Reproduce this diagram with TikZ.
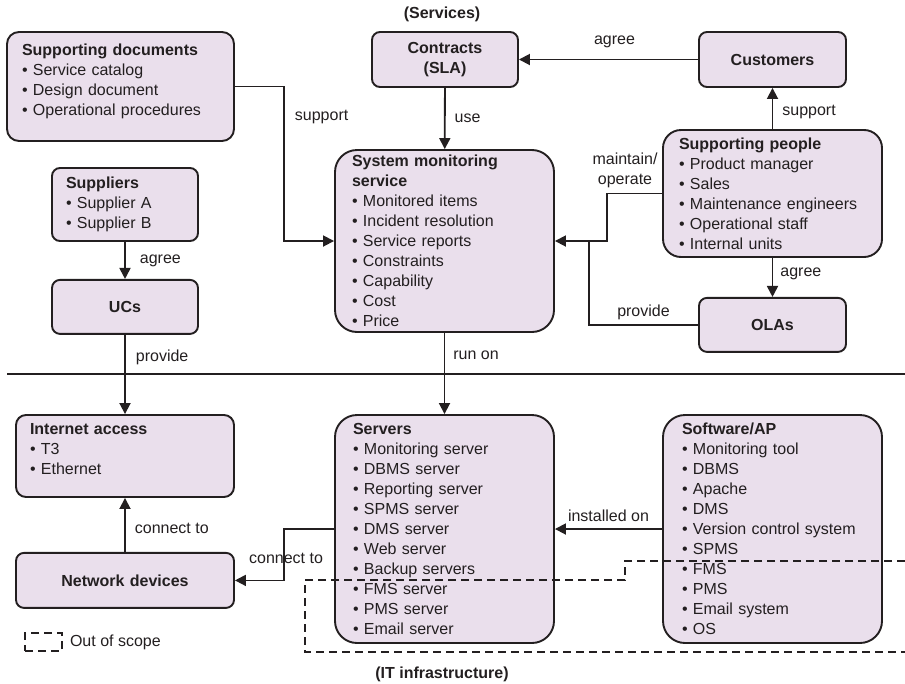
\documentclass[tikz,border=0pt]{standalone}
\usepackage{fontspec}
\setmainfont{Liberation Sans}
\usetikzlibrary{positioning,arrows.meta}
\definecolor{boxfill}{HTML}{EADFEC}
\definecolor{ink}{HTML}{231F20}
\tikzset{
>={Triangle[length=11pt,width=11pt]},
box/.style={rectangle, rounded corners=#1, draw=ink, line width=1.9pt, fill=boxfill, text=ink, font=\fontsize{16pt}{20pt}\selectfont, inner xsep=15pt, inner ysep=0pt},
box/.default=8pt,
listbox/.style={box=#1, align=left},
listbox/.default=8pt,
namebox/.style={box=8pt, align=center, font=\fontsize{16pt}{20pt}\selectfont\bfseries},
line/.style={draw=ink, line width=1.8pt, ->},
merge/.style={draw=ink, line width=1.8pt, -},
lbl/.style={text=ink, font=\fontsize{16pt}{20pt}\selectfont, inner sep=1pt},
heading/.style={text=ink, font=\fontsize{16pt}{20pt}\selectfont\bfseries, inner sep=1pt},
sepline/.style={draw=ink, line width=2.3pt},
scopeline/.style={draw=ink, line width=1.7pt, dash pattern=on 8pt off 5pt},
}

\begin{document}
\begin{tikzpicture}
[x=1pt, y=-1pt, node distance=20pt]
\useasboundingbox (0,0) rectangle (905,683);

\node[heading] (services) at (442,14) {(Services)};
\node[heading] (infra) at (442,674) {(IT infrastructure)};

% services side
\node[listbox=12pt, text width=197pt, minimum height=109pt] (docs) at (120.5,86.5) {\textbf{Supporting documents}\\• Service catalog\\• Design document\\• Operational procedures\\[-6pt]\mbox{}};
\node[namebox, text width=116pt, minimum height=55pt] (contracts) at (445,59.5) {Contracts\\(SLA)};
\node[namebox, text width=117pt, minimum height=55pt] (customers) at (772.5,59.5) {Customers};
\node[listbox=22pt, inner xsep=17pt, text width=185pt, minimum height=182pt] (sms) at (444.5,241) {\textbf{System monitoring}\\\textbf{service}\\• Monitored items\\• Incident resolution\\• Service reports\\• Constraints\\• Capability\\• Cost\\• Price};
\node[listbox=8pt, inner xsep=14pt, text width=118pt, minimum height=73pt] (suppliers) at (125,204.5) {\textbf{Suppliers}\\• Supplier A\\• Supplier B};
\node[namebox, text width=116pt, minimum height=54pt, below=37pt of suppliers] (ucs) {UCs};
\node[listbox=18pt, inner xsep=16pt, text width=187pt, minimum height=127pt] (people) at (772.5,193.5) {\textbf{Supporting people}\\• Product manager\\• Sales\\• Maintenance engineers\\• Operational staff\\• Internal units};
\node[namebox, text width=117pt, minimum height=54pt, below=39pt of people] (olas) {OLAs};

% infrastructure side
\node[listbox=10pt, inner xsep=14pt, text width=190pt, minimum height=82pt] (inet) at (125,456) {\textbf{Internet access}\\• T3\\• Ethernet\\[-5pt]\mbox{}};
\node[namebox, text width=188pt, minimum height=55pt, below=54pt of inet] (netdev) {Network devices};
\node[listbox=22pt, inner xsep=18pt, text width=183pt, minimum height=228pt] (servers) at (444.5,529) {\textbf{Servers}\\• Monitoring server\\• DBMS server\\• Reporting server\\• SPMS server\\• DMS server\\• Web server\\• Backup servers\\• FMS server\\• PMS server\\• Email server};
\node[listbox=22pt, inner xsep=19pt, text width=181pt, minimum height=228pt] (software) at (772.5,529) {\textbf{Software/AP}\\• Monitoring tool\\• DBMS\\• Apache\\• DMS\\• Version control system\\• SPMS\\• FMS\\• PMS\\• Email system\\• OS};

\draw[sepline] (7,374) -- (905,374);

\draw[line] (customers) -- node[lbl, above=10pt, xshift=6pt] (agreeC) {agree} (contracts);
\draw[line] (contracts) -- node[lbl, right=8pt] (use) {use} (sms);
\draw[line] (docs.east) -| node[lbl, pos=0.6, right=9pt] (supportD) {support} ([xshift=-50pt]sms.west) -- (sms.west);
\draw[line] (suppliers) -- node[lbl, right=13pt] (agreeS) {agree} (ucs);
\draw[line] (ucs) -- node[lbl, pos=0.29, right=9pt] (provideU) {provide} (inet);
\draw[line] (people) -- node[lbl, pos=0.42, right=8pt] (supportP) {support} (customers);
\draw[line] (people) -- node[lbl, pos=0.41, right=6pt] (agreeO) {agree} (olas);
\draw[line] (people.west) -- ++(-55,0) |- (sms.east);
\node[lbl, align=center] (maintain) at (625,170) {maintain/\\operate};
\draw[merge] (olas.west) -| node[lbl, pos=0.25, above=3pt] (provideO) {provide} ([xshift=34pt]sms.east);
\draw[line] (sms) -- node[lbl, pos=0.28, right=7pt] (runon) {run on} (servers);
\draw[line] (netdev) -- node[lbl, pos=0.43, right=8pt] (connectN) {connect to} (inet);
\draw[line] (servers.west) -- ++(-50,0) |- node[lbl, pos=0.29, xshift=2pt] (connectS) {connect to} (netdev.east);
\draw[line] (software) -- node[lbl, above=5pt] (installed) {installed on} (servers);

% out of scope
\draw[scopeline] (905,561) -- (625,561) -- (625,580) -- (305,580) -- (305,652) -- (905,652);
\node[scopeline, draw, minimum width=37pt, minimum height=18pt, inner sep=0pt] (oosbox) at (43.5,642) {};
\node[lbl, right=6pt of oosbox] (oos) {Out of scope};

\end{tikzpicture}
\end{document}
